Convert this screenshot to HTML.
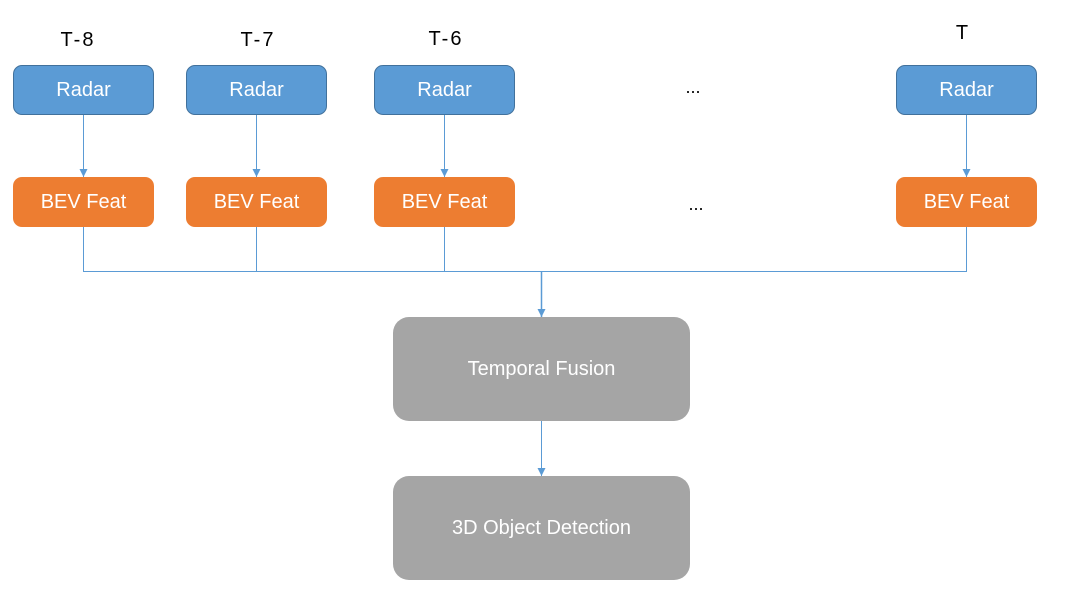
<!DOCTYPE html>
<html><head><style>
body{margin:0;width:1073px;height:598px;background:#fff;position:relative;font-family:"Liberation Sans",sans-serif;overflow:hidden}
.b{position:absolute;box-sizing:border-box;display:flex;align-items:center;justify-content:center;color:#fff;font-size:20px}
.r{background:#5B9BD5;border:1px solid #41719C;border-radius:9px;width:141px;height:50px;top:65px}
.o{background:#ED7D31;border-radius:9px;width:141px;height:50px;top:177px}
.g{background:#A5A5A5;border-radius:16px;left:393px;width:297px;height:104px}
.t{position:absolute;font-size:20px;color:#000;transform:translateX(-50%);letter-spacing:2px}
.d{position:absolute;font-size:18px;color:#000;transform:translateX(-50%)}
</style></head><body>
<svg width="1073" height="598" style="position:absolute;left:0;top:0">
<defs><marker id="a" markerWidth="8" markerHeight="8" refX="8" refY="4" orient="auto" markerUnits="userSpaceOnUse"><path d="M0,0 L8,4 L0,8z" fill="#5B9BD5"/></marker></defs>
<g stroke="#5B9BD5" stroke-width="1" fill="none">
<line x1="83.5" y1="115" x2="83.5" y2="177" marker-end="url(#a)"/>
<line x1="256.5" y1="115" x2="256.5" y2="177" marker-end="url(#a)"/>
<line x1="444.5" y1="115" x2="444.5" y2="177" marker-end="url(#a)"/>
<line x1="966.5" y1="115" x2="966.5" y2="177" marker-end="url(#a)"/>
<polyline points="83.5,227 83.5,271.5 966.5,271.5 966.5,227"/>
<line x1="256.5" y1="227" x2="256.5" y2="271"/>
<line x1="444.5" y1="227" x2="444.5" y2="271"/>
<line x1="541.5" y1="271" x2="541.5" y2="317" stroke-width="1.5" marker-end="url(#a)"/>
<line x1="541.5" y1="421" x2="541.5" y2="476" marker-end="url(#a)"/>
</g></svg>
<div class="t" style="left:78px;top:29px">T-8</div>
<div class="t" style="left:258px;top:29px">T-7</div>
<div class="t" style="left:446px;top:28px">T-6</div>
<div class="t" style="left:963px;top:22px">T</div>
<div class="d" style="left:693px;top:77px">...</div>
<div class="d" style="left:696px;top:194px">...</div>
<div class="b r" style="left:13px">Radar</div>
<div class="b r" style="left:186px">Radar</div>
<div class="b r" style="left:374px">Radar</div>
<div class="b r" style="left:896px">Radar</div>
<div class="b o" style="left:13px">BEV Feat</div>
<div class="b o" style="left:186px">BEV Feat</div>
<div class="b o" style="left:374px">BEV Feat</div>
<div class="b o" style="left:896px">BEV Feat</div>
<div class="b g" style="top:317px">Temporal Fusion</div>
<div class="b g" style="top:476px">3D Object Detection</div>
</body></html>
